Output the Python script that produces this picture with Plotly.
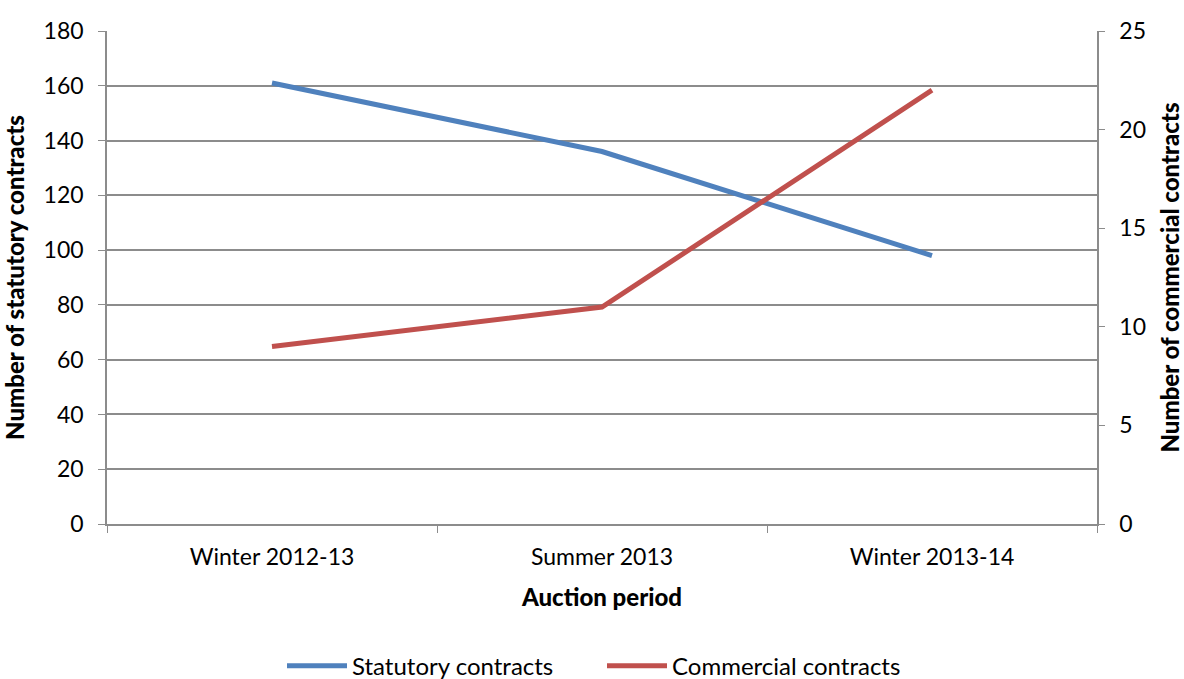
import plotly.graph_objects as go

# Auction periods and contract counts
periods = ["Winter 2012-13", "Summer 2013", "Winter 2013-14"]
statutory = [161, 136, 98]
commercial = [9, 11, 22]

FONT = "Lato, 'Open Sans', sans-serif"
GRID = "#8c8c8c"
TITLE_FONT = dict(family=FONT, size=24, weight=900, color="black")

fig = go.Figure()
fig.add_trace(go.Scatter(
    x=periods, y=statutory, name="Statutory contracts", mode="lines",
    line=dict(color="#4f81bd", width=5), yaxis="y"))
fig.add_trace(go.Scatter(
    x=periods, y=commercial, name="Commercial contracts", mode="lines",
    line=dict(color="#c0504d", width=5), yaxis="y2"))

fig.update_layout(
    width=1184, height=679,
    margin=dict(l=107, r=87, t=31, b=155, autoexpand=False),
    paper_bgcolor="white", plot_bgcolor="white",
    font=dict(family=FONT, size=23, color="black"),
    showlegend=True,
    legend=dict(orientation="h", x=0.5, xanchor="center",
                yref="container", y=0.019, yanchor="middle",
                font=dict(size=24), itemwidth=60, traceorder="normal",
                entrywidth=245, entrywidthmode="pixels"),
    xaxis=dict(
        type="category", range=[-0.5, 2.5],
        showline=True, linecolor=GRID, linewidth=1.5,
        ticks="outside", tickson="boundaries", ticklen=7, tickcolor=GRID,
        showgrid=False, zeroline=False,
        ticklabelstandoff=12,
        title=dict(text="Auction period", font=TITLE_FONT, standoff=20),
    ),
    yaxis=dict(
        range=[0, 180], dtick=20,
        showline=True, linecolor=GRID, linewidth=1.5,
        ticks="outside", ticklen=7, tickcolor=GRID,
        showgrid=True, gridcolor=GRID, gridwidth=1.5, zeroline=False,
        ticklabelstandoff=10,
        title=dict(text="Number of statutory contracts", font=TITLE_FONT, standoff=12),
    ),
    yaxis2=dict(
        range=[0, 25], dtick=5, overlaying="y", side="right",
        showline=True, linecolor=GRID, linewidth=1.5,
        ticks="outside", ticklen=6, tickcolor=GRID,
        showgrid=False, zeroline=False,
        ticklabelstandoff=10,
        title=dict(text="Number of commercial contracts", font=TITLE_FONT, standoff=28),
    ),
)

fig.write_html("out.html")
